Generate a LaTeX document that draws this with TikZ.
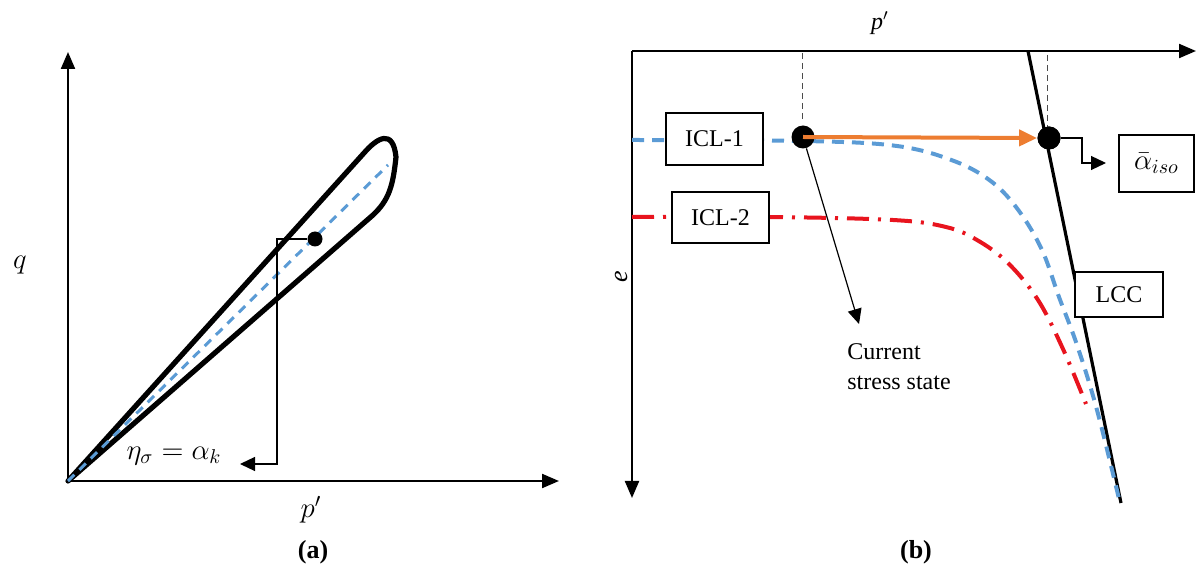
\documentclass[tikz,border=0pt]{standalone}
\usepackage{fontspec}
\setmainfont{Liberation Serif}
\usetikzlibrary{arrows.meta}
\definecolor{icblue}{RGB}{91,155,213}
\definecolor{icred}{RGB}{232,20,30}
\definecolor{icorange}{RGB}{237,125,49}
\tikzset{
  axisline/.style={line width=1.1pt,-{Triangle[length=8.5pt,width=7pt]}},
  loopline/.style={line width=2.6pt,line join=round},
  bluedashA/.style={draw=icblue,line width=1.5pt,dash pattern=on 4.5pt off 3.5pt},
  bluedashB/.style={draw=icblue,line width=2pt,dash pattern=on 6pt off 4pt},
  reddash/.style={draw=icred,line width=2pt,dash pattern=on 11pt off 4.5pt on 1.5pt off 4.5pt},
  lbox/.style={draw,line width=0.8pt,fill=white,inner sep=0pt,font=\fontsize{12}{14}\selectfont},
  dotA/.style={circle,fill=black,inner sep=0pt,minimum size=7.5pt},
  dotB/.style={circle,fill=black,inner sep=0pt,minimum size=11.5pt},
  thinarrow/.style={line width=0.6pt,-{Triangle[length=7.5pt,width=7pt]}},
  guide/.style={draw=black!70,line width=0.5pt,dash pattern=on 3pt off 2pt},
  mathlbl/.style={inner sep=0pt,font=\fontsize{14}{16}\selectfont},
  caplabel/.style={inner sep=0pt,font=\fontsize{13}{15}\selectfont\bfseries}
}
\begin{document}
\begin{tikzpicture}[x=0.5pt,y=-0.5pt]
\useasboundingbox (0,0) rectangle (1196,577);

% ---------------- panel (a) ----------------
\coordinate (Ao) at (68,481);
\coordinate (Ay) at (68,52);
\coordinate (Ax) at (559,481);
\draw[axisline] (Ao) -- (Ay);
\draw[axisline] (Ao) -- (Ax);

\draw[loopline] (Ao) -- (364,153) .. controls (377,138) and (393,128) .. (396,157)
   .. controls (393,186) and (389,200) .. (373,215) -- cycle;
\coordinate (Ab) at (388,165);
\draw[bluedashA] (Ao) -- (Ab);

\node[dotA] (da) at (315,239) {};
\coordinate (bk) at (277,239);
\coordinate (bt) at (240,464);
\draw[thinarrow] (da) -- (bk) |- (bt);

\node[mathlbl] (q) at (20,265) {$q$};
\node[mathlbl] (pa) at (311,510) {$p'$};
\node[mathlbl] (eta) at (174,456) {$\eta_\sigma=\alpha_k$};
\node[caplabel] (capa) at (313,552) {(a)};

% ---------------- panel (b) ----------------
\coordinate (Bo) at (632,51);
\coordinate (Bx) at (1196,51);
\coordinate (By) at (632,498);
\draw[axisline] (Bo) -- (Bx);
\draw[axisline] (Bo) -- (By);

\node[inner sep=0pt,font=\fontsize{12}{14}\selectfont] (pb) at (880,23) {\textit{p}$'$};
\node[inner sep=0pt,rotate=90,font=\fontsize{13}{15}\selectfont] (eb) at (621,277) {\textit{e}};

% LCC line
\coordinate (L1) at (1028,51);
\coordinate (L2) at (1121,503);
\draw[line width=1.6pt] (L1) -- (L2);

% ICL curves
\draw[bluedashB] plot[smooth,tension=0.6] coordinates {(632,140) (805,141) (897,146) (954,161) (992,182) (1019,211) (1042,250) (1059,297) (1077,345) (1097,410) (1120,503)};
\draw[reddash] plot[smooth,tension=0.6] coordinates {(632,217) (770,217) (893,220) (946,227) (977,240) (1008,263) (1038,300) (1063,349) (1086,404)};

% guides
\coordinate (g1a) at (802,53);
\coordinate (g1b) at (802,120);
\coordinate (g2a) at (1047,55);
\coordinate (g2b) at (1047,127);
\draw[guide] (g1a) -- (g1b);
\draw[guide] (g2a) -- (g2b);

% boxes
\node[lbox,minimum width=48.5pt,minimum height=26pt] (icl1) at (714.5,139) {ICL-1};
\node[lbox,minimum width=48.5pt,minimum height=25.5pt] (icl2) at (720.5,217.5) {ICL-2};
\node[lbox,minimum width=44pt,minimum height=22.5pt] (lcc) at (1119,294.5) {LCC};
\node[lbox,minimum width=37.5pt,minimum height=28.5pt,font=\fontsize{14}{16}\selectfont] (aiso) at (1156.5,163.5) {$\bar{\alpha}_{iso}$};

% dots and arrows
\node[dotB] (d1) at (803,137) {};
\node[dotB] (d2) at (1049,138) {};
\draw[draw=icorange,line width=2pt,-{Triangle[length=9pt,width=8pt]}] (d1.center) -- (d2.west);
\node[dotB] at (d2) {};

\coordinate (cs) at (859,324);
\draw[thinarrow] (d1) -- (cs);
\node[anchor=west,align=left,inner sep=0pt,font=\fontsize{12}{15}\selectfont] (cst) at (847,367) {Current\\stress state};

\coordinate (e1) at (1082,138);
\coordinate (e2) at (1106,163);
\draw[thinarrow] (d2) -- (e1) |- (e2);

\node[caplabel] (capb) at (916,552) {(b)};
\end{tikzpicture}
\end{document}
